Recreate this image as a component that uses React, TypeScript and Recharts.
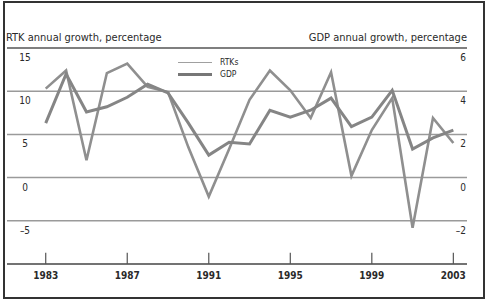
import { LineChart, Line, XAxis, YAxis, ReferenceLine } from 'recharts';

const years = [
  1983, 1984, 1985, 1986, 1987, 1988, 1989, 1990, 1991, 1992, 1993,
  1994, 1995, 1996, 1997, 1998, 1999, 2000, 2001, 2002, 2003,
];
// RTK growth, left axis (%)
const rtk = [
  10.3, 12.4, 2.0, 12.1, 13.2, 10.5, 9.9, 3.5, -2.2, 3.3, 9.0,
  12.4, 10.1, 6.9, 12.2, 0.2, 5.5, 9.2, -5.8, 6.9, 4.0,
];
// GDP growth, right axis (%)
const gdp = [
  2.52, 4.8, 3.04, 3.28, 3.72, 4.32, 3.92, 2.52, 1.04, 1.64, 1.56,
  3.12, 2.8, 3.12, 3.68, 2.36, 2.8, 4.04, 1.32, 1.84, 2.2,
];
const yearTicks = [1983, 1987, 1991, 1995, 1999, 2003];
const leftTicks = [15, 10, 5, 0, -5];
const rightTicks = [6, 4, 2, 0, -2];

const data = years.map((y, i) => ({ year: y, rtk: rtk[i], gdp: gdp[i] }));

const FONT = "'Liberation Sans Narrow', 'DejaVu Sans Condensed', 'Liberation Sans', sans-serif";
const TEXT = '#2a2a2a';
const GRID = '#9a9a9a';

const fmt = (v: number) => (v < 0 ? `\u2013${Math.abs(v)}` : `${v}`);

function GridLabel(props: any) {
  const { viewBox, left, right } = props;
  if (!viewBox) return null;
  const { x, y, width } = viewBox;
  return (
    <g>
      <text x={x + 18} y={y + 13} textAnchor="middle" fontSize={10} fontFamily={FONT} fill={TEXT}>
        {fmt(left)}
      </text>
      <text x={x + width - 1} y={y + 13} textAnchor="end" fontSize={10} fontFamily={FONT} fill={TEXT}>
        {fmt(right)}
      </text>
    </g>
  );
}

function YearLabel(props: any) {
  const { viewBox, year } = props;
  if (!viewBox) return null;
  const { x, y, height } = viewBox;
  return (
    <text x={x} y={y + height + 15} textAnchor="middle" fontSize={10} fontFamily={FONT} fill={TEXT} fontWeight="bold">
      {year}
    </text>
  );
}

export default function App() {
  return (
    <div style={{ position: 'absolute', left: 0, top: 0, width: 487, height: 301, fontFamily: FONT }}>
      <div
        style={{
          position: 'absolute',
          left: 3,
          top: 1,
          width: 478,
          height: 294,
          border: '2px solid #333',
        }}
      />
      <div style={{ position: 'absolute', left: 6, top: 31, fontSize: 11, color: TEXT }}>
        RTK annual growth, percentage
      </div>
      <div style={{ position: 'absolute', right: 20, top: 31, fontSize: 11, color: TEXT }}>
        GDP annual growth, percentage
      </div>
      <div style={{ position: 'absolute', left: 178, top: 56, fontSize: 8.5, color: TEXT, lineHeight: '12px' }}>
        <div style={{ display: 'flex', alignItems: 'center' }}>
          <span style={{ display: 'inline-block', width: 34, borderTop: '1.5px solid #a0a0a0', marginRight: 8 }} />
          RTKs
        </div>
        <div style={{ display: 'flex', alignItems: 'center' }}>
          <span style={{ display: 'inline-block', width: 34, borderTop: '3px solid #777', marginRight: 8 }} />
          GDP
        </div>
      </div>
      <div style={{ position: 'absolute', left: 0, top: 0 }}>
        <LineChart width={487} height={301} data={data} margin={{ top: 48, right: 20, bottom: 37, left: 7 }}>
          <XAxis
            dataKey="year"
            type="number"
            domain={[1981.1, 2003.67]}
            ticks={yearTicks}
            tick={false}
            tickLine={false}
            axisLine={false}
            height={0}
            allowDataOverflow
          />
          <YAxis yAxisId="left" domain={[-10, 15]} width={0} tick={false} axisLine={false} tickLine={false} />
          <YAxis
            yAxisId="right"
            orientation="right"
            domain={[-4, 6]}
            width={0}
            tick={false}
            axisLine={false}
            tickLine={false}
          />
          {leftTicks.map((v, i) => (
            <ReferenceLine
              key={`g${v}`}
              yAxisId="left"
              y={v}
              stroke={v === 15 ? '#555' : GRID}
              strokeWidth={1.5}
              ifOverflow="visible"
              label={<GridLabel left={v} right={rightTicks[i]} />}
            />
          ))}
          <ReferenceLine yAxisId="left" y={-10} stroke="#444" strokeWidth={1.5} ifOverflow="visible" />
          {yearTicks.map((yr) => (
            <ReferenceLine
              key={`y${yr}`}
              yAxisId="left"
              segment={[
                { x: yr, y: -10 },
                { x: yr, y: -8.7 },
              ]}
              stroke="#555"
              strokeWidth={1.2}
              ifOverflow="visible"
              label={<YearLabel year={yr} />}
            />
          ))}
          <Line
            yAxisId="left"
            dataKey="rtk"
            stroke="#8f8f8f"
            strokeWidth={2.6}
            dot={false}
            isAnimationActive={false}
          />
          <Line
            yAxisId="right"
            dataKey="gdp"
            stroke="#858585"
            strokeWidth={3}
            dot={false}
            isAnimationActive={false}
          />
        </LineChart>
      </div>
    </div>
  );
}
